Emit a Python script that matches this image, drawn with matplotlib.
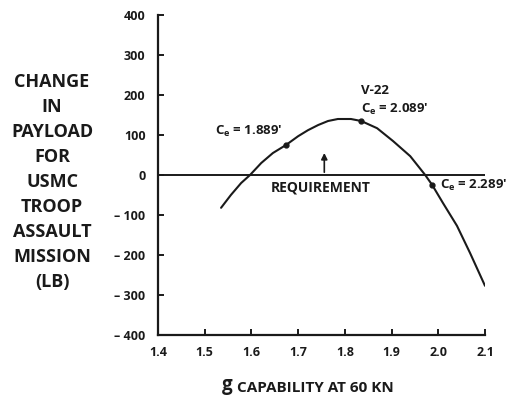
import matplotlib
matplotlib.use("Agg")
import matplotlib.pyplot as plt

plt.rcParams['font.family'] = ['Open Sans', 'DejaVu Sans']
plt.rcParams['font.weight'] = 'bold'
plt.rcParams['mathtext.fontset'] = 'custom'
plt.rcParams['mathtext.rm'] = 'Open Sans:bold'
plt.rcParams['mathtext.it'] = 'Open Sans:bold'
plt.rcParams['mathtext.default'] = 'rm'

# Data
g_capability = [1.535, 1.556, 1.578, 1.597, 1.621, 1.646, 1.674, 1.700, 1.721, 1.743,
                1.764, 1.785, 1.813, 1.835, 1.869, 1.903, 1.940, 1.972, 1.987, 2.010,
                2.040, 2.068, 2.100]
payload_change = [-82, -50, -20, 0, 30, 55, 75, 97, 112, 125,
                  135, 140, 140, 135, 117, 85, 47, 0, -25, -70,
                  -127, -195, -277]
marker_x = [1.674, 1.835, 1.987]
marker_y = [75, 135, -25]
requirement = 0
x_ticks = [1.4, 1.5, 1.6, 1.7, 1.8, 1.9, 2.0, 2.1]
x_tick_labels = ['1.4', '1.5', '1.6', '1.7', '1.8', '1.9', '2.0', '2.1']
y_ticks = [400, 300, 200, 100, 0, -100, -200, -300, -400]
y_tick_labels = ['400', '300', '200', '100', '0', '\u2013 100', '\u2013 200', '\u2013 300', '\u2013 400']

fig = plt.figure(figsize=(5.14, 3.95), dpi=100)
ax = fig.add_axes([158/514, 60/395, 327/514, 320/395])

ax.plot(g_capability, payload_change, color='#1a1a1a', lw=1.5, solid_capstyle='round',
        solid_joinstyle='round')
ax.plot(marker_x, marker_y, 'o', color='#1a1a1a', ms=3.5)
ax.axhline(requirement, color='#1a1a1a', lw=1.4)

ax.set_xlim(1.4, 2.1)
ax.set_ylim(-400, 400)
ax.set_xticks(x_ticks)
ax.set_xticklabels(x_tick_labels)
ax.set_yticks(y_ticks)
ax.set_yticklabels(y_tick_labels)
for s in ['top', 'right']:
    ax.spines[s].set_visible(False)
for s in ['left', 'bottom']:
    ax.spines[s].set_linewidth(1.6)
    ax.spines[s].set_color('#1a1a1a')
ax.tick_params(direction='in', length=4, width=1.4, labelsize=9, colors='#1a1a1a')
ax.tick_params(axis='y', pad=9)
ax.tick_params(axis='x', pad=8)
for lab in ax.get_xticklabels() + ax.get_yticklabels():
    lab.set_fontweight('bold')

# Requirement arrow and label
ax.annotate('', xy=(1.756, 62), xytext=(1.756, 0),
            arrowprops=dict(arrowstyle='-|>', color='#1a1a1a', lw=1.2, mutation_scale=9))
ax.text(1.642, -30, 'REQUIREMENT', fontsize=10, fontweight='bold', color='#1a1a1a',
        va='center', ha='left')

# Point labels
ax.text(1.523, 110, 'C$_e$ = 1.889\u2032', fontsize=9.5, color='#1a1a1a', va='center', ha='left')
ax.text(1.835, 210, 'V-22', fontsize=9.5, color='#1a1a1a', va='center', ha='left')
ax.text(1.835, 163, 'C$_e$ = 2.089\u2032', fontsize=9.5, color='#1a1a1a', va='center', ha='left')
ax.text(2.004, -25, 'C$_e$ = 2.289\u2032', fontsize=9.5, color='#1a1a1a', va='center', ha='left',
        clip_on=False)

# Y label block
fig.text(52/514, 1 - 182/395, 'CHANGE\nIN\nPAYLOAD\nFOR\nUSMC\nTROOP\nASSAULT\nMISSION\n(LB)',
         ha='center', va='center', fontsize=13, fontweight='bold', color='#1a1a1a',
         linespacing=1.5)

# X label
tg = fig.text(222/514, 1 - 390/395, 'g', fontsize=13.5, fontweight='bold', color='#1a1a1a',
              ha='left', va='baseline')
ax.annotate(' CAPABILITY AT 60 KN', xy=(1, 0), xycoords=tg, va='bottom', ha='left',
            fontsize=11, fontweight='bold', color='#1a1a1a', annotation_clip=False)

fig.savefig('out.png', dpi=100)
